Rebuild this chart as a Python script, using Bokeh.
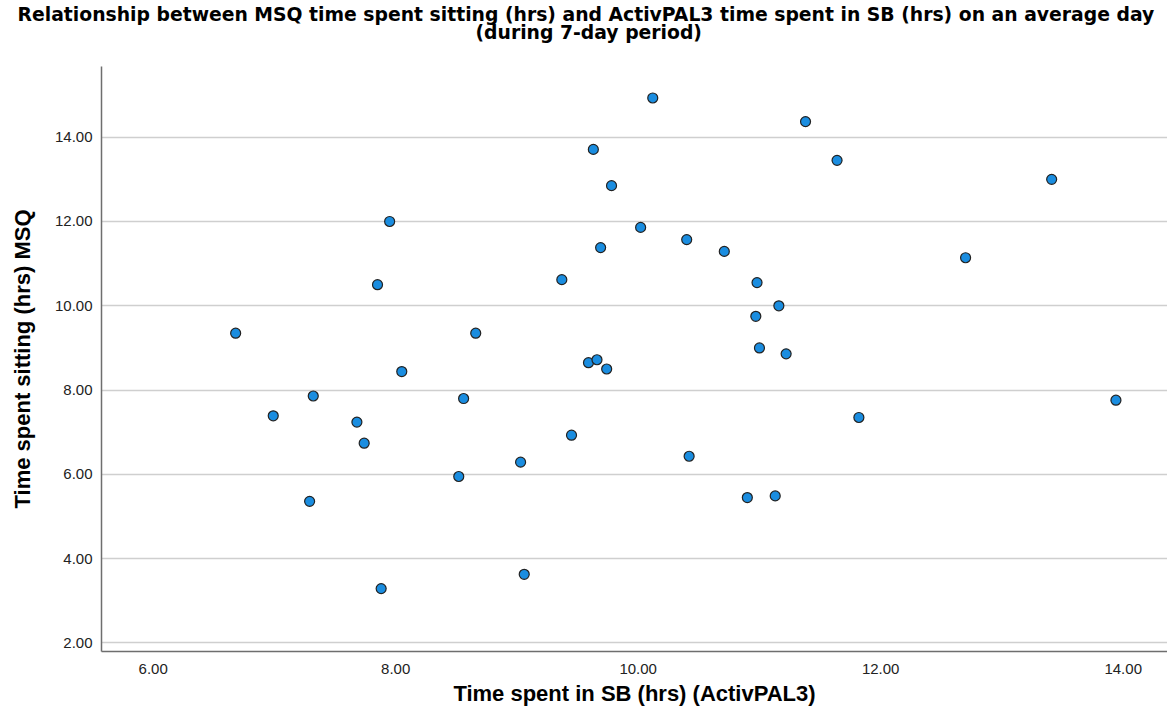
from bokeh.plotting import figure
from bokeh.models import ColumnDataSource, Title, FixedTicker, Range1d, CustomJSTickFormatter
from bokeh.embed import file_html
from bokeh.resources import INLINE

# ActivPAL3 time spent in SB (hrs)
sb_hours = [7.95, 7.85, 6.68, 10.12, 11.38, 9.63, 9.78, 10.02, 10.40, 9.69,
            10.71, 9.37, 10.98, 11.16, 10.97, 8.66, 11.00, 11.22, 11.64, 13.41,
            12.70, 8.05, 7.32, 6.99, 7.68, 7.74, 7.29, 7.88, 9.59, 9.66,
            9.74, 8.56, 9.45, 9.03, 10.42, 8.52, 10.90, 11.13, 9.06, 11.82,
            13.94]
# MSQ time spent sitting (hrs)
msq_hours = [12.00, 10.50, 9.35, 14.93, 14.37, 13.71, 12.85, 11.86, 11.57, 11.38,
             11.29, 10.62, 10.55, 10.00, 9.75, 9.35, 9.00, 8.86, 13.45, 13.00,
             11.14, 8.44, 7.86, 7.39, 7.24, 6.74, 5.36, 3.29, 8.65, 8.72,
             8.50, 7.80, 6.93, 6.29, 6.43, 5.95, 5.45, 5.49, 3.63, 7.35,
             7.76]
x_ticks = [6, 8, 10, 12, 14]
y_ticks = [2, 4, 6, 8, 10, 12, 14]

title_line1 = "Relationship between MSQ time spent sitting (hrs) and ActivPAL3 time spent in SB (hrs) on an average day"
title_line2 = "(during 7-day period)"
x_label = "Time spent in SB (hrs) (ActivPAL3)"
y_label = "Time spent sitting (hrs) MSQ"

src = ColumnDataSource(dict(x=sb_hours, y=msq_hours))

W, H = 1167, 714
LEFT, TOP, BOTTOM = 101, 66, 63

p = figure(width=W, height=H, output_backend="svg", toolbar_location=None,
           x_range=Range1d(5.5736, 14.3653), y_range=Range1d(1.798, 15.677),
           min_border_left=LEFT, min_border_right=0, min_border_top=TOP,
           min_border_bottom=BOTTOM)
p.outline_line_color = None
p.background_fill_color = "white"
p.border_fill_color = "white"

fmt = CustomJSTickFormatter(code="return tick.toFixed(2);")

p.xaxis.ticker = FixedTicker(ticks=x_ticks)
p.yaxis.ticker = FixedTicker(ticks=y_ticks)
p.xaxis.formatter = fmt
p.yaxis.formatter = fmt

for ax in (p.xaxis[0], p.yaxis[0]):
    ax.major_tick_line_color = None
    ax.minor_tick_line_color = None
    ax.major_tick_out = 0
    ax.major_tick_in = 0
    ax.minor_tick_out = 0
    ax.minor_tick_in = 0
    ax.axis_line_color = "#6e6e6e"
    ax.axis_line_width = 1.5
    ax.major_label_text_font = "Liberation Sans"
    ax.major_label_text_font_size = "15px"
    ax.major_label_text_color = "#222222"
    ax.axis_label_text_font = "Liberation Sans"
    ax.axis_label_text_font_style = "bold"
    ax.axis_label_text_font_size = "22px"
    ax.axis_label_text_color = "#000000"

p.xaxis.axis_label = x_label
p.yaxis.axis_label = y_label
p.xaxis.major_label_standoff = 12
p.xaxis.axis_label_standoff = 4
p.yaxis.major_label_standoff = 9
p.yaxis.axis_label_standoff = 17

p.xgrid.grid_line_color = None
p.ygrid.ticker = FixedTicker(ticks=y_ticks)
p.ygrid.grid_line_color = "#cfcfcf"
p.ygrid.grid_line_width = 1.7

p.scatter("x", "y", source=src, size=10, fill_color="#1a8de0",
          line_color="#222222", line_width=1.2)

# Two-line chart title centred on the whole page; a blank spacer panel keeps
# a gap between the title and the plot frame.
title_style = dict(text_font="DejaVu Sans", text_font_size="18.8px",
                   text_font_style="bold", text_color="#000000",
                   align="left", vertical_align="bottom")
p.add_layout(Title(text=" ", text_font_size="2px", standoff=20), "above")
p.add_layout(Title(text=title_line2, offset=374, standoff=0, **title_style), "above")
p.add_layout(Title(text=title_line1, offset=-84, standoff=-11, **title_style), "above")

open("out.html", "w").write(file_html(p, INLINE))
